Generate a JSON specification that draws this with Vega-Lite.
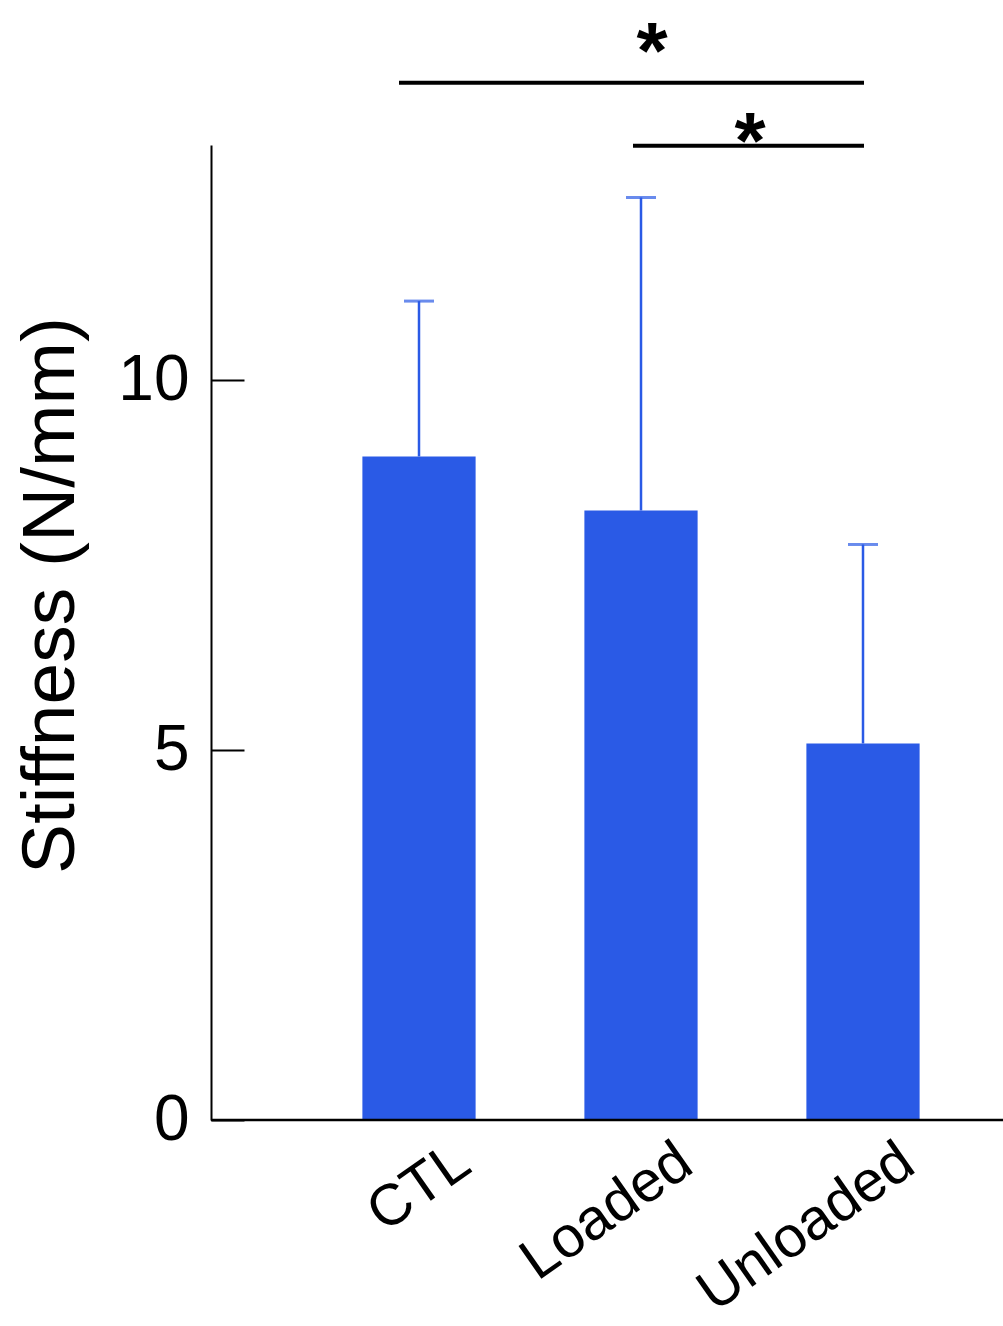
{
  "$schema": "https://vega.github.io/schema/vega-lite/v6.json",
  "width": 792,
  "height": 975,
  "autosize": "none",
  "padding": {"left": 211, "top": 145, "right": 0, "bottom": 206},
  "background": "white",
  "config": {"view": {"stroke": null}, "font": "Liberation Sans"},
  "datasets": {
    "bars": [
      {"group": "CTL", "mean": 8.97, "upper": 11.07},
      {"group": "Loaded", "mean": 8.24, "upper": 12.47},
      {"group": "Unloaded", "mean": 5.09, "upper": 7.78}
    ],
    "sig": [
      {"pair": "CTL-Unloaded", "from": "CTL", "to": "Unloaded", "y": 14.02, "ystar": 14.08, "label": "*"},
      {"pair": "Loaded-Unloaded", "from": "Loaded", "to": "Unloaded", "y": 13.17, "ystar": 12.87, "label": "*"}
    ]
  },
  "layer": [
    {
      "data": {"name": "bars"},
      "mark": {"type": "bar", "color": "#2a5ae6"},
      "encoding": {
        "x": {
          "field": "group", "type": "nominal",
          "scale": {"type": "band", "domain": ["CTL", "Loaded", "Unloaded"], "range": [97, 763], "paddingInner": 0.49, "paddingOuter": 0.245},
          "axis": {
            "domain": false, "ticks": false, "grid": false, "title": null,
            "labelAngle": -35, "labelAlign": "right", "labelBaseline": "alphabetic",
            "labelPadding": 50, "labelOffset": 55, "labelFontSize": 58, "labelColor": "black",
            "labelFont": "Liberation Sans", "labelLimit": 0, "labelOverlap": false
          }
        },
        "y": {
          "field": "mean", "type": "quantitative",
          "scale": {"domain": [0, 13.18], "nice": false, "zero": true},
          "axis": {
            "values": [0, 5, 10], "format": "d", "grid": false,
            "domainColor": "black", "domainWidth": 2,
            "tickColor": "black", "tickWidth": 2, "tickSize": -33,
            "labelFontSize": 64, "labelColor": "black", "labelPadding": 55, "labelFont": "Liberation Sans",
            "title": "Stiffness (N/mm)", "titleFontSize": 75, "titleFontWeight": "normal", "titleColor": "black",
            "titleFont": "Liberation Sans", "titleX": -138, "titleY": 450, "titleAngle": -90,
            "titleAlign": "center", "titleBaseline": "alphabetic"
          }
        }
      }
    },
    {
      "data": {"name": "bars"},
      "mark": {"type": "rule", "color": "#2a5ae6", "strokeWidth": 2.5},
      "encoding": {
        "x": {"field": "group", "type": "nominal", "bandPosition": 0.5},
        "y": {"field": "mean", "type": "quantitative"},
        "y2": {"field": "upper"}
      }
    },
    {
      "data": {"name": "bars"},
      "mark": {"type": "tick", "orient": "horizontal", "color": "#2a5ae6", "size": 30, "thickness": 3},
      "encoding": {
        "x": {"field": "group", "type": "nominal"},
        "y": {"field": "upper", "type": "quantitative"}
      }
    },
    {
      "data": {"values": [{"base": 0}]},
      "mark": {"type": "rule", "color": "black", "strokeWidth": 2.5},
      "encoding": {
        "y": {"field": "base", "type": "quantitative"}
      }
    },
    {
      "data": {"name": "sig"},
      "transform": [{"filter": "datum.pair === 'CTL-Unloaded'"}],
      "mark": {"type": "rule", "color": "black", "strokeWidth": 4, "xOffset": -20, "x2Offset": 1},
      "encoding": {
        "x": {"field": "from", "type": "nominal", "bandPosition": 0.5},
        "x2": {"field": "to", "bandPosition": 0.5},
        "y": {"field": "y", "type": "quantitative"}
      }
    },
    {
      "data": {"name": "sig"},
      "transform": [{"filter": "datum.pair === 'Loaded-Unloaded'"}],
      "mark": {"type": "rule", "color": "black", "strokeWidth": 4, "xOffset": -8, "x2Offset": 1},
      "encoding": {
        "x": {"field": "from", "type": "nominal", "bandPosition": 0.5},
        "x2": {"field": "to", "bandPosition": 0.5},
        "y": {"field": "y", "type": "quantitative"}
      }
    },
    {
      "data": {"name": "sig"},
      "transform": [{"filter": "datum.pair === 'CTL-Unloaded'"}],
      "mark": {"type": "text", "fontSize": 80, "fontWeight": "bold", "color": "black", "baseline": "alphabetic", "align": "center", "dx": 11, "font": "Liberation Sans"},
      "encoding": {
        "x": {"datum": "Loaded", "type": "nominal"},
        "y": {"field": "ystar", "type": "quantitative"},
        "text": {"field": "label"}
      }
    },
    {
      "data": {"name": "sig"},
      "transform": [{"filter": "datum.pair === 'Loaded-Unloaded'"}],
      "mark": {"type": "text", "fontSize": 80, "fontWeight": "bold", "color": "black", "baseline": "alphabetic", "align": "center", "dx": 109, "font": "Liberation Sans"},
      "encoding": {
        "x": {"datum": "Loaded", "type": "nominal"},
        "y": {"field": "ystar", "type": "quantitative"},
        "text": {"field": "label"}
      }
    }
  ]
}
